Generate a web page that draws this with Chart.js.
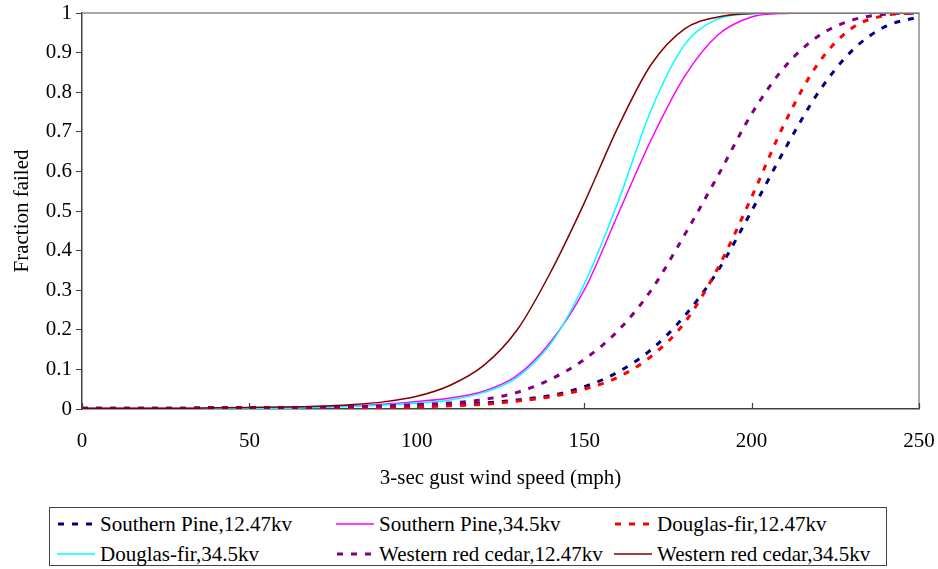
<!DOCTYPE html>
<html>
<head>
    <title>Fraction failed vs 3-sec gust wind speed</title>
    <script src="https://cdn.jsdelivr.net/npm/chart.js"></script>
    <style>
        body { margin: 0; background: #fff; }
        .wrap { position: relative; width: 938px; height: 569px; }
        #chart { position: absolute; left: 0; top: 0; }
        .legend {
            position: absolute;
            left: 49px; top: 507px;
            width: 838px; height: 59px;
            border: 1px solid #444;
            box-sizing: border-box;
            font-family: "Liberation Serif", "Times New Roman", serif;
            font-size: 21px;
            color: #000;
        }
        .item {
            position: absolute;
            height: 26px;
            display: flex;
            align-items: center;
            white-space: nowrap;
        }
        .item svg { margin-right: 5px; }
    </style>
</head>
<body>
    <div class="wrap">
        <canvas id="chart" width="938" height="500"></canvas>
        <div class="legend" id="legend"></div>
    </div>

    <script>
        // wind speed (mph)
        const speeds = [0, 10, 20, 30, 40, 50, 60, 70, 80, 90, 100, 110, 120, 130,
                        140, 150, 160, 170, 180, 190, 200, 210, 220, 230, 240, 250];

        // fraction failed
        const southernPine12 = [0.002, 0.002, 0.002, 0.002, 0.003, 0.003, 0.003, 0.004, 0.005, 0.007,
                                0.009, 0.011, 0.015, 0.023, 0.034, 0.056, 0.093, 0.15, 0.235, 0.35,
                                0.50, 0.657, 0.80, 0.905, 0.966, 0.99];
        const southernPine34 = [0.001, 0.001, 0.001, 0.001, 0.002, 0.002, 0.003, 0.005, 0.008, 0.012,
                                0.019, 0.028, 0.045, 0.085, 0.17, 0.30, 0.49, 0.68, 0.84, 0.945,
                                0.99, 0.999, 1, 1, 1, 1];
        const douglasFir12 = [0.001, 0.001, 0.001, 0.001, 0.001, 0.002, 0.002, 0.002, 0.003, 0.004,
                              0.005, 0.008, 0.012, 0.02, 0.031, 0.05, 0.08, 0.133, 0.218, 0.357,
                              0.535, 0.724, 0.874, 0.962, 0.994, 1];
        const douglasFir34 = [0.001, 0.001, 0.001, 0.001, 0.001, 0.002, 0.002, 0.004, 0.006, 0.01,
                              0.015, 0.023, 0.042, 0.08, 0.165, 0.315, 0.52, 0.755, 0.92, 0.985,
                              0.998, 1, 1, 1, 1, 1];
        const redCedar12 = [0.002, 0.002, 0.002, 0.002, 0.003, 0.003, 0.003, 0.004, 0.006, 0.008,
                            0.011, 0.015, 0.024, 0.042, 0.075, 0.125, 0.197, 0.30, 0.44, 0.59,
                            0.745, 0.865, 0.942, 0.982, 0.997, 1];
        const redCedar34 = [0.002, 0.002, 0.002, 0.002, 0.003, 0.004, 0.005, 0.007, 0.011, 0.018,
                            0.032, 0.06, 0.11, 0.2, 0.346, 0.52, 0.71, 0.87, 0.96, 0.99,
                            0.999, 1, 1, 1, 1, 1];

        const seriesNames = ['Southern Pine,12.47kv', 'Southern Pine,34.5kv', 'Douglas-fir,12.47kv',
                             'Douglas-fir,34.5kv', 'Western red cedar,12.47kv', 'Western red cedar,34.5kv'];
        const seriesValues = [southernPine12, southernPine34, douglasFir12,
                              douglasFir34, redCedar12, redCedar34];
        const seriesColors = ['#000080', '#ff00ff', '#ff0000', '#00ffff', '#800080', '#800000'];
        const seriesDashed = [true, false, true, false, true, false];

        const xTicks = [0, 50, 100, 150, 200, 250];
        const yTicks = [0, 0.1, 0.2, 0.3, 0.4, 0.5, 0.6, 0.7, 0.8, 0.9, 1];

        const serif = { family: '"Liberation Serif", "Times New Roman", serif', size: 21 };

        // gray frame on top/right plus inward x ticks
        const framePlugin = {
            id: 'frame',
            afterDraw(chart) {
                const { ctx, chartArea: a } = chart;
                const xs = chart.scales.x;
                ctx.save();
                ctx.strokeStyle = '#8c8c8c';
                ctx.lineWidth = 1.5;
                ctx.beginPath();
                ctx.moveTo(a.left, a.top);
                ctx.lineTo(a.right, a.top);
                ctx.lineTo(a.right, a.bottom);
                ctx.stroke();
                ctx.strokeStyle = '#404040';
                ctx.lineWidth = 1.2;
                xTicks.forEach(v => {
                    const px = Math.round(xs.getPixelForValue(v)) + 0.5;
                    ctx.beginPath();
                    ctx.moveTo(px, a.bottom);
                    ctx.lineTo(px, a.bottom - 6);
                    ctx.stroke();
                });
                ctx.restore();
            }
        };

        const datasets = seriesNames.map((name, i) => ({
            label: name,
            data: speeds.map((s, j) => ({ x: s, y: seriesValues[i][j] })),
            borderColor: seriesColors[i],
            borderWidth: seriesDashed[i] ? 3 : 1.5,
            borderDash: seriesDashed[i] ? [6, 8] : [],
            pointRadius: 0,
            fill: false,
            cubicInterpolationMode: 'monotone',
            order: seriesNames.length - i
        }));

        new Chart(document.getElementById('chart').getContext('2d'), {
            type: 'line',
            data: { datasets },
            options: {
                responsive: false,
                animation: false,
                layout: { padding: { left: 0, top: 13, right: 19, bottom: 0 } },
                plugins: {
                    legend: { display: false },
                    tooltip: { enabled: false }
                },
                scales: {
                    x: {
                        type: 'linear',
                        min: 0,
                        max: 250,
                        afterBuildTicks: s => { s.ticks = xTicks.map(v => ({ value: v })); },
                        afterFit: s => { s.height = 91; s.paddingLeft = 0; s.paddingRight = 0; },
                        grid: { drawOnChartArea: false, drawTicks: false },
                        border: { color: '#404040', width: 1.5 },
                        ticks: { font: serif, color: '#000', padding: 20, maxRotation: 0, callback: v => String(v) },
                        title: {
                            display: true,
                            text: '3-sec gust wind speed (mph)',
                            font: serif,
                            color: '#000',
                            padding: { top: 0, bottom: 9 }
                        }
                    },
                    y: {
                        min: 0,
                        max: 1,
                        afterBuildTicks: s => { s.ticks = yTicks.map(v => ({ value: v })); },
                        afterFit: s => { s.width = 82; s.paddingTop = 0; s.paddingBottom = 0; },
                        grid: { drawOnChartArea: false, drawTicks: true, tickLength: 6, color: '#404040' },
                        border: { color: '#404040', width: 1.5 },
                        ticks: { font: serif, color: '#000', padding: 4, callback: v => String(v) },
                        title: {
                            display: true,
                            text: 'Fraction failed',
                            font: serif,
                            color: '#000',
                            padding: { top: 10, bottom: 0 }
                        }
                    }
                }
            },
            plugins: [framePlugin]
        });

        // legend, 3 columns x 2 rows, built from the same series arrays
        const legendCols = [7, 286, 564];
        const legendRows = [3, 33];
        const legend = document.getElementById('legend');
        seriesNames.forEach((name, i) => {
            const item = document.createElement('div');
            item.className = 'item';
            item.style.left = legendCols[i % 3] + 'px';
            item.style.top = legendRows[Math.floor(i / 3)] + 'px';
            const dash = seriesDashed[i] ? 'stroke-dasharray="6 8"' : '';
            const w = seriesDashed[i] ? 3 : 1.5;
            item.innerHTML = '<svg width="38" height="10"><line x1="' + (seriesDashed[i] ? 1 : 0) +
                '" y1="5" x2="38" y2="5" stroke="' + seriesColors[i] + '" stroke-width="' + w + '" ' +
                dash + '/></svg><span>' + name + '</span>';
            legend.appendChild(item);
        });
    </script>
</body>
</html>
